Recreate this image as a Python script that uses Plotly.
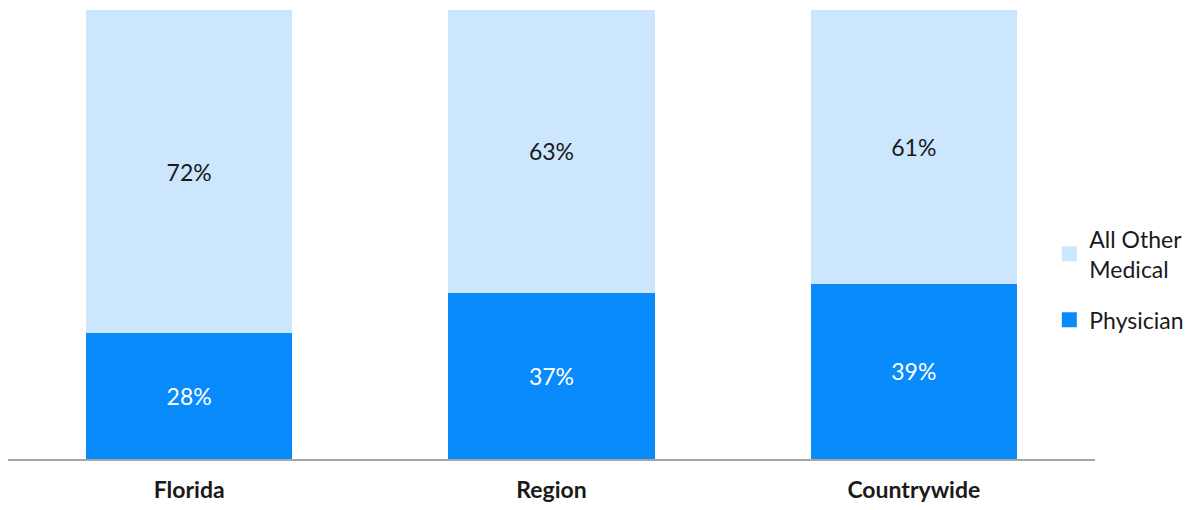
import plotly.graph_objects as go

categories = ["Florida", "Region", "Countrywide"]
physician = [28, 37, 39]
all_other = [72, 63, 61]

PHYS_COLOR = "#0a8bfc"
OTHER_COLOR = "#cce6fd"
FONT = "Lato, 'Open Sans', sans-serif"

fig = go.Figure()
fig.add_trace(
    go.Bar(
        x=categories,
        y=physician,
        name="Physician",
        showlegend=False,
        marker=dict(color=PHYS_COLOR, line_width=0),
        text=[f"{v}%" for v in physician],
        textposition="inside",
        insidetextanchor="middle",
        textfont=dict(color="white", size=23, family=FONT),
    )
)
fig.add_trace(
    go.Bar(
        x=categories,
        y=all_other,
        name="All Other Medical",
        showlegend=False,
        marker=dict(color=OTHER_COLOR, line_width=0),
        text=[f"{v}%" for v in all_other],
        textposition="inside",
        insidetextanchor="middle",
        textfont=dict(color="#1a1a1a", size=23, family=FONT),
    )
)

# legend-only entries so the swatches can be drawn as larger squares
for name, color in [("All Other<br>Medical", OTHER_COLOR), ("Physician", PHYS_COLOR)]:
    fig.add_trace(
        go.Scatter(
            x=[None],
            y=[None],
            mode="markers",
            name=name,
            legendgroup=name,
            marker=dict(symbol="square", size=15, color=color),
            hoverinfo="skip",
        )
    )

# the page body adds an 8px margin, so the figure is sized to fit inside it
fig.update_layout(
    barmode="stack",
    bargap=0.43,
    width=1180,
    height=494,
    margin=dict(l=0, r=93, t=2, b=43, autoexpand=False),
    plot_bgcolor="white",
    paper_bgcolor="white",
    font=dict(family=FONT, size=23, color="#1a1a1a"),
    uniformtext=dict(mode="show", minsize=23),
    legend=dict(
        x=0.958,
        y=0.40,
        xanchor="left",
        yanchor="middle",
        traceorder="grouped",
        font=dict(size=23, family=FONT, color="#1a1a1a"),
        tracegroupgap=18,
        itemsizing="trace",
        bgcolor="rgba(0,0,0,0)",
    ),
    xaxis=dict(
        showline=True,
        linecolor="#a6a6a6",
        linewidth=2,
        showgrid=False,
        ticks="",
        tickfont=dict(size=23, family=FONT, color="#1a1a1a", weight="bold"),
        ticklabelstandoff=9,
    ),
    yaxis=dict(
        range=[0, 100],
        visible=False,
        showgrid=False,
    ),
)

fig.write_html("out.html")
